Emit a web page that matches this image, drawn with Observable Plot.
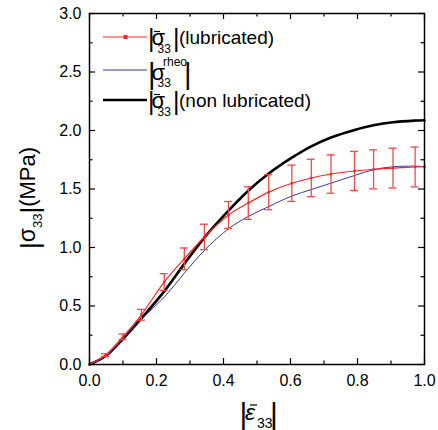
<!DOCTYPE html>
<html><head><meta charset="utf-8">
<script src="https://cdn.jsdelivr.net/npm/d3@7"></script>
<script src="https://cdn.jsdelivr.net/npm/@observablehq/plot@0.6"></script>
<style>body{margin:0;background:#fff} svg{display:block}</style>
</head><body><div id="chart"></div>
<script>
// ---- axis ticks ----
const xTicks = [0, 0.2, 0.4, 0.6, 0.8, 1.0];
const xMinor = [0.1, 0.3, 0.5, 0.7, 0.9];
const yTicks = [0, 0.5, 1.0, 1.5, 2.0, 2.5, 3.0];
const yMinor = [0.25, 0.75, 1.25, 1.75, 2.25, 2.75];

// ---- |sigma33| lubricated (mean with error bars) ----
const lubX   = [0, 0.048, 0.100, 0.155, 0.223, 0.283, 0.343, 0.415, 0.474, 0.535, 0.604, 0.662, 0.721, 0.791, 0.848, 0.906, 0.972, 1.0];
const lubY   = [0, 0.080, 0.237, 0.425, 0.705, 0.903, 1.090, 1.278, 1.380, 1.473, 1.549, 1.594, 1.628, 1.654, 1.668, 1.679, 1.688, 1.690];
const lubErr = [0, 0.012, 0.024, 0.046, 0.071, 0.093, 0.109, 0.115, 0.139, 0.150, 0.155, 0.160, 0.164, 0.167, 0.167, 0.170, 0.170, 0];

// ---- |sigma33 rheo| ----
const rheoX = [0, 0.048, 0.100, 0.155, 0.223, 0.283, 0.343, 0.415, 0.474, 0.535, 0.604, 0.662, 0.721, 0.791, 0.848, 0.906, 0.972, 1.0];
const rheoY = [0, 0.072, 0.220, 0.388, 0.575, 0.780, 0.975, 1.160, 1.265, 1.350, 1.440, 1.495, 1.550, 1.615, 1.665, 1.690, 1.695, 1.690];

// ---- |sigma33| non lubricated ----
const nonX = [0, 0.048, 0.100, 0.155, 0.223, 0.283, 0.343, 0.415, 0.474, 0.535, 0.604, 0.662, 0.721, 0.791, 0.848, 0.906, 0.972, 1.0];
const nonY = [0, 0.072, 0.220, 0.395, 0.625, 0.860, 1.085, 1.315, 1.485, 1.632, 1.768, 1.865, 1.940, 2.005, 2.045, 2.071, 2.085, 2.088];

const lub  = lubX.map((x, i) => ({x, y: lubY[i], e: lubErr[i]}));
const lubE = lub.filter(d => d.e > 0);
const rheo = rheoX.map((x, i) => ({x, y: rheoY[i]}));
const non  = nonX.map((x, i) => ({x, y: nonY[i]}));

const W = 438, H = 430, mL = 89, mR = 14, mT = 13, mB = 66;
const pw = W - mL - mR, ph = H - mT - mB;
const RED = "#ff2424", ERR = "#f24848", BLUE = "#3a36a6";
const FONT = "'Liberation Sans', Arial, Helvetica, sans-serif";

const chart = Plot.plot({
  width: W, height: H,
  marginLeft: mL, marginRight: mR, marginTop: mT, marginBottom: mB,
  style: {fontFamily: FONT, fontSize: "16px", background: "white", color: "black", overflow: "visible"},
  x: {domain: [0, 1]},
  y: {domain: [0, 3]},
  marks: [
    Plot.line(non, {x: "x", y: "y", stroke: "black", strokeWidth: 2.6, curve: "catmull-rom"}),
    Plot.line(rheo, {x: "x", y: "y", stroke: BLUE, strokeWidth: 1, curve: "catmull-rom"}),
    Plot.ruleX(lubE, {x: "x", y1: d => d.y - d.e, y2: d => d.y + d.e, stroke: ERR, strokeWidth: 1.3}),
    Plot.ruleY(lubE, {y: d => d.y - d.e, x1: "x", x2: "x", insetLeft: -4, insetRight: -4, stroke: ERR, strokeWidth: 1.3}),
    Plot.ruleY(lubE, {y: d => d.y + d.e, x1: "x", x2: "x", insetLeft: -4, insetRight: -4, stroke: ERR, strokeWidth: 1.3}),
    Plot.line(lub, {x: "x", y: "y", stroke: RED, strokeWidth: 1.2, curve: "catmull-rom"}),
    Plot.dot(lub, {x: "x", y: "y", symbol: "square", r: 1.3, fill: RED}),
    // inward ticks on all four sides
    Plot.tickX(xTicks, {x: d => d, insetTop: ph - 6, stroke: "black", strokeWidth: 1.2}),
    Plot.tickX(xMinor, {x: d => d, insetTop: ph - 3.5, stroke: "black", strokeWidth: 1.2}),
    Plot.tickX(xTicks, {x: d => d, insetBottom: ph - 6, stroke: "black", strokeWidth: 1.2}),
    Plot.tickX(xMinor, {x: d => d, insetBottom: ph - 3.5, stroke: "black", strokeWidth: 1.2}),
    Plot.tickY(yTicks, {y: d => d, insetRight: pw - 6, stroke: "black", strokeWidth: 1.2}),
    Plot.tickY(yMinor, {y: d => d, insetRight: pw - 3.5, stroke: "black", strokeWidth: 1.2}),
    Plot.tickY(yTicks, {y: d => d, insetLeft: pw - 6, stroke: "black", strokeWidth: 1.2}),
    Plot.tickY(yMinor, {y: d => d, insetLeft: pw - 3.5, stroke: "black", strokeWidth: 1.2}),
    Plot.frame({stroke: "black", strokeWidth: 1.5}),
    Plot.axisX({ticks: xTicks, tickSize: 0, tickPadding: 10, tickFormat: d3.format(".1f"), label: null}),
    Plot.axisY({ticks: yTicks, tickSize: 0, tickPadding: 8, tickFormat: d3.format(".1f"), label: null})
  ]
});
document.getElementById("chart").append(chart);

// ---- text helpers (legend and axis titles) ----
const svg = d3.select(chart);
function txt(g, x, y, s, size, extra = {}) {
  const t = g.append("text").attr("x", x).attr("y", y).text(s)
    .attr("font-family", FONT).attr("font-size", size).attr("fill", "black")
    .attr("text-anchor", "start");
  for (const k in extra) t.attr(k, extra[k]);
  return t;
}
function bar(g, x1, x2, y, w = 1.2) {
  g.append("line").attr("x1", x1).attr("x2", x2).attr("y1", y).attr("y2", y)
    .attr("stroke", "black").attr("stroke-width", w);
}
const leg = svg.append("g").attr("text-anchor", "start");
const legendRows = [
  {y: 37, color: RED, width: 1.2, marker: true},
  {y: 70, color: BLUE, width: 1, marker: false},
  {y: 100, color: "black", width: 2.4, marker: false}
];
for (const r of legendRows) {
  leg.append("line").attr("x1", 103).attr("x2", 147).attr("y1", r.y).attr("y2", r.y)
    .attr("stroke", r.color).attr("stroke-width", r.width);
  if (r.marker) leg.append("rect").attr("x", 123.5).attr("y", r.y - 2).attr("width", 4).attr("height", 4).attr("fill", RED);
}
// row 1: |σ̄33|(lubricated)
txt(leg, 148, 47, "|", 25);
txt(leg, 151.5, 45, "σ", 22);
bar(leg, 154, 160, 31.5);
txt(leg, 157.5, 53, "33", 12);
txt(leg, 173, 47, "|", 25);
txt(leg, 179, 44, "(lubricated)", 19);
// row 2: |σ33^rheo|
txt(leg, 148, 84, "|", 29);
txt(leg, 151.5, 80, "σ", 22);
txt(leg, 163, 66, "rheo", 12);
txt(leg, 157.5, 87, "33", 12);
txt(leg, 184, 84, "|", 29);
// row 3: |σ̄33|(non lubricated)
txt(leg, 148, 110, "|", 25);
txt(leg, 151.5, 108, "σ", 22);
bar(leg, 154, 160, 94.5);
txt(leg, 157.5, 116, "33", 12);
txt(leg, 173, 110, "|", 25);
txt(leg, 179, 107, "(non lubricated)", 19);

// x-axis title |ε̄33|
const xt = svg.append("g").attr("text-anchor", "start");
txt(xt, 239.5, 424, "|", 30);
txt(xt, 245, 420, "ε", 23, {"font-style": "italic"});
bar(xt, 250, 257, 405);
txt(xt, 257, 428, "33", 14);
txt(xt, 270, 424, "|", 30);

// y-axis title |σ33|(MPa), rotated
const yt = svg.append("text").attr("transform", "translate(35,249) rotate(-90)")
  .attr("font-family", FONT).attr("fill", "black").attr("text-anchor", "start");
yt.append("tspan").attr("font-size", 26).attr("dy", 4).text("|");
yt.append("tspan").attr("font-size", 23).attr("dy", -4).text("σ");
yt.append("tspan").attr("font-size", 13).attr("dy", 7).text("33");
yt.append("tspan").attr("font-size", 26).attr("dy", -3).text("|");
yt.append("tspan").attr("font-size", 22).attr("dy", -4).text("(MPa)");
</script>
</body></html>
